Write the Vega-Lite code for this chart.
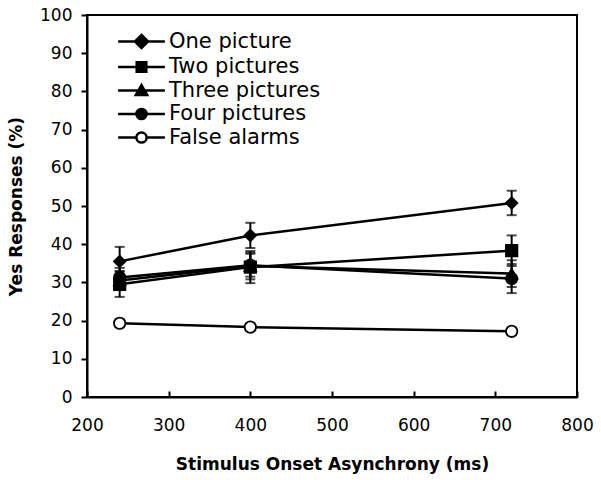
{
  "$schema": "https://vega.github.io/schema/vega-lite/v6.json",
  "width": 490,
  "height": 382,
  "autosize": "none",
  "padding": {"left": 87, "top": 15, "right": 24, "bottom": 83},
  "background": "white",
  "config": {
    "font": "DejaVu Sans",
    "view": {"stroke": "black", "strokeWidth": 2},
    "axis": {
      "grid": false,
      "labelFlush": false,
      "domainColor": "black",
      "domainWidth": 2,
      "tickColor": "black",
      "tickWidth": 2,
      "labelColor": "black",
      "titleColor": "black",
      "labelFontSize": 17,
      "titleFontSize": 17,
      "titleFontWeight": "bold",
      "labelFont": "DejaVu Sans",
      "titleFont": "DejaVu Sans"
    }
  },
  "data": {
    "values": [
      {"series": "One picture", "soa": 240, "yes": 35.5, "lo": 31.7, "hi": 39.3},
      {"series": "One picture", "soa": 400, "yes": 42.3, "lo": 39.0, "hi": 45.6},
      {"series": "One picture", "soa": 720, "yes": 50.8, "lo": 47.6, "hi": 54.0},
      {"series": "Two pictures", "soa": 240, "yes": 29.5, "lo": 26.2, "hi": 32.8},
      {"series": "Two pictures", "soa": 400, "yes": 34.0, "lo": 29.8, "hi": 38.2},
      {"series": "Two pictures", "soa": 720, "yes": 38.3, "lo": 34.3, "hi": 42.3},
      {"series": "Three pictures", "soa": 240, "yes": 30.5, "lo": 28.0, "hi": 33.0},
      {"series": "Three pictures", "soa": 400, "yes": 34.3, "lo": 30.8, "hi": 37.8},
      {"series": "Three pictures", "soa": 720, "yes": 32.3, "lo": 28.8, "hi": 35.8},
      {"series": "Four pictures", "soa": 240, "yes": 31.3, "lo": 28.8, "hi": 33.8},
      {"series": "Four pictures", "soa": 400, "yes": 34.5, "lo": 31.5, "hi": 37.5},
      {"series": "Four pictures", "soa": 720, "yes": 31.0, "lo": 27.2, "hi": 34.8},
      {"series": "False alarms", "soa": 240, "yes": 19.3, "lo": 18.3, "hi": 20.3},
      {"series": "False alarms", "soa": 400, "yes": 18.3, "lo": 17.3, "hi": 19.3},
      {"series": "False alarms", "soa": 720, "yes": 17.2, "lo": 16.2, "hi": 18.2}
    ]
  },
  "encoding": {
    "x": {
      "field": "soa",
      "type": "quantitative",
      "scale": {"domain": [200, 800], "nice": false},
      "axis": {
        "title": "Stimulus Onset Asynchrony (ms)",
        "values": [200, 300, 400, 500, 600, 700, 800],
        "tickSize": -6,
        "labelPadding": 26,
        "titlePadding": 23
      }
    },
    "y": {
      "field": "yes",
      "type": "quantitative",
      "scale": {"domain": [0, 100], "nice": false},
      "axis": {
        "title": "Yes Responses (%)",
        "values": [0, 10, 20, 30, 40, 50, 60, 70, 80, 90, 100],
        "tickSize": 6,
        "labelPadding": 9,
        "titlePadding": 14
      }
    }
  },
  "layer": [
    {
      "mark": {"type": "line", "color": "black", "strokeWidth": 2.5},
      "encoding": {"detail": {"field": "series"}}
    },
    {
      "mark": {"type": "errorbar", "color": "black", "thickness": 2, "ticks": {"size": 10, "thickness": 2, "color": "black"}},
      "encoding": {
        "y": {"field": "lo", "type": "quantitative", "title": "Yes Responses (%)"},
        "y2": {"field": "hi"}
      }
    },
    {
      "mark": {"type": "point", "filled": true, "stroke": "black", "strokeWidth": 1.8, "opacity": 1, "size": 130},
      "encoding": {
        "shape": {
          "field": "series",
          "type": "nominal",
          "scale": {
            "domain": ["One picture", "Two pictures", "Three pictures", "Four pictures", "False alarms"],
            "range": ["diamond", "square", "triangle-up", "circle", "circle"]
          },
          "legend": null
        },
        "fill": {
          "field": "series",
          "type": "nominal",
          "scale": {
            "domain": ["One picture", "Two pictures", "Three pictures", "Four pictures", "False alarms"],
            "range": ["black", "black", "black", "black", "white"]
          },
          "legend": null
        }
      }
    },
    {
      "mark": {"type": "point", "filled": true, "stroke": "black", "strokeWidth": 2.5, "opacity": 0, "size": 144},
      "encoding": {
        "shape": {
          "field": "series",
          "type": "nominal",
          "scale": {
            "domain": ["One picture", "Two pictures", "Three pictures", "Four pictures", "False alarms"],
            "range": [
              "M-3.9,0H3.9M0,-1.1L1.1,0L0,1.1L-1.1,0Z",
              "M-3.9,0H3.9M-0.8,-0.8H0.8V0.8H-0.8Z",
              "M-3.9,0H3.9M0,-0.9L0.95,0.75H-0.95Z",
              "M-3.9,0H3.9M-0.85,0A0.85,0.85,0,1,0,0.85,0A0.85,0.85,0,1,0,-0.85,0Z",
              "M-3.9,0H-0.85M0.85,0H3.9M-0.85,0A0.85,0.85,0,1,0,0.85,0A0.85,0.85,0,1,0,-0.85,0Z"
            ]
          },
          "legend": {
            "orient": "none",
            "legendX": 44,
            "legendY": 16,
            "title": null,
            "padding": 0,
            "labelFontSize": 21,
            "labelFont": "DejaVu Sans",
            "labelColor": "black",
            "labelOffset": 17,
            "rowPadding": 1.5,
            "symbolSize": 144,
            "symbolStrokeWidth": 2.5,
            "symbolStrokeColor": "black",
            "encode": {"symbols": {"update": {"opacity": {"value": 1}, "stroke": {"value": "black"}, "strokeWidth": {"value": 2.5}}}}
          }
        },
        "fill": {
          "field": "series",
          "type": "nominal",
          "scale": {
            "domain": ["One picture", "Two pictures", "Three pictures", "Four pictures", "False alarms"],
            "range": ["black", "black", "black", "black", "white"]
          },
          "legend": {
            "orient": "none",
            "legendX": 44,
            "legendY": 16,
            "title": null,
            "padding": 0,
            "labelFontSize": 21,
            "labelFont": "DejaVu Sans",
            "labelColor": "black",
            "labelOffset": 17,
            "rowPadding": 1.5,
            "symbolSize": 144,
            "symbolStrokeWidth": 2.5,
            "symbolStrokeColor": "black",
            "encode": {"symbols": {"update": {"opacity": {"value": 1}, "stroke": {"value": "black"}, "strokeWidth": {"value": 2.5}}}}
          }
        }
      }
    }
  ],
  "resolve": {"scale": {"shape": "independent", "fill": "independent"}}
}
